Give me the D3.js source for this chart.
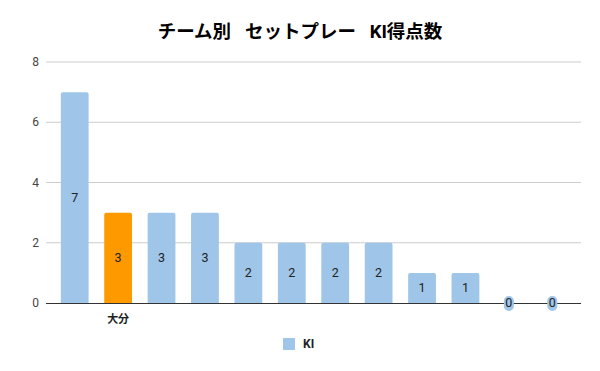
<!DOCTYPE html>
<html>
<head>
<meta charset="utf-8">
<script src="https://cdn.jsdelivr.net/npm/d3@7"></script>
<style>
  body { margin: 0; background: #fff; }
  text { font-family: Roboto, 'Noto Sans CJK JP', sans-serif; }
</style>
</head>
<body>
<div id="chart"></div>
<script>
// data
const categories = ['t1', '大分', 't3', 't4', 't5', 't6', 't7', 't8', 't9', 't10', 't11', 't12'];
const shownLabels = ['', '大分', '', '', '', '', '', '', '', '', '', ''];
const kiValues = [7, 3, 3, 3, 2, 2, 2, 2, 1, 1, 0, 0];
const highlight = '大分';
const yTicks = [0, 2, 4, 6, 8];

(function() {
  const width = 600;
  const height = 371;

  const svg = d3.select('#chart')
    .append('svg')
    .attr('width', width)
    .attr('height', height);

  svg.append('rect')
    .attr('width', width)
    .attr('height', height)
    .attr('fill', '#fff');

  const x = d3.scaleBand()
    .domain(categories)
    .range([53, 574])
    .paddingInner(0.36)
    .paddingOuter(0.18);

  const y = d3.scaleLinear()
    .domain([0, 8])
    .range([303, 62]);

  // gridlines
  svg.selectAll('.grid')
    .data(yTicks.filter(d => d > 0))
    .enter()
    .append('line')
    .attr('x1', 46)
    .attr('x2', 581)
    .attr('y1', d => y(d))
    .attr('y2', d => y(d))
    .attr('stroke', '#cccccc')
    .attr('stroke-width', 1);

  // y tick labels
  svg.selectAll('.ytick')
    .data(yTicks)
    .enter()
    .append('text')
    .attr('x', 39)
    .attr('y', d => y(d))
    .attr('dy', '0.35em')
    .attr('text-anchor', 'end')
    .attr('font-size', '12px')
    .attr('fill', '#444')
    .text(d => d);

  const data = categories.map((c, i) => ({ cat: c, label: shownLabels[i], v: kiValues[i] }));

  // bars
  svg.selectAll('.bar')
    .data(data.filter(d => d.v > 0))
    .enter()
    .append('path')
    .attr('d', d => {
      const x0 = x(d.cat), w = x.bandwidth(), y0 = y(d.v), y1 = y(0), r = 2;
      return `M${x0},${y1}V${y0 + r}Q${x0},${y0} ${x0 + r},${y0}H${x0 + w - r}Q${x0 + w},${y0} ${x0 + w},${y0 + r}V${y1}Z`;
    })
    .attr('fill', d => d.cat === highlight ? '#ff9900' : '#9fc5e8');

  // zero axis
  svg.append('line')
    .attr('x1', 46)
    .attr('x2', 581)
    .attr('y1', y(0) + 0.5)
    .attr('y2', y(0) + 0.5)
    .attr('stroke', '#333')
    .attr('stroke-width', 1);

  // highlight blobs for zero values
  svg.selectAll('.zero')
    .data(data.filter(d => d.v === 0))
    .enter()
    .append('rect')
    .attr('x', d => x(d.cat) + x.bandwidth() / 2 - 5)
    .attr('y', y(0) - 7)
    .attr('width', 10)
    .attr('height', 15)
    .attr('rx', 5)
    .attr('fill', '#9fc5e8');

  // value labels
  svg.selectAll('.val')
    .data(data)
    .enter()
    .append('text')
    .attr('x', d => x(d.cat) + x.bandwidth() / 2)
    .attr('y', d => d.v > 0 ? (y(d.v) + y(0)) / 2 : y(0))
    .attr('dy', '0.35em')
    .attr('text-anchor', 'middle')
    .attr('font-size', '12.5px')
    .attr('fill', '#222')
    .text(d => d.v);

  // category labels
  svg.selectAll('.cat')
    .data(data.filter(d => d.label))
    .enter()
    .append('text')
    .attr('x', d => x(d.cat) + x.bandwidth() / 2)
    .attr('y', 323)
    .attr('text-anchor', 'middle')
    .attr('font-size', '11px')
    .attr('font-weight', 'bold')
    .attr('fill', '#222')
    .text(d => d.label);

  // title
  svg.append('text')
    .attr('x', 300)
    .attr('y', 38)
    .attr('text-anchor', 'middle')
    .attr('font-size', '18.5px')
    .attr('font-weight', 'bold')
    .attr('fill', '#000')
    .style('white-space', 'pre')
    .text('チーム別   セットプレー   KI得点数');

  // legend
  svg.append('rect')
    .attr('x', 283)
    .attr('y', 338)
    .attr('width', 12)
    .attr('height', 12)
    .attr('fill', '#9fc5e8');

  svg.append('text')
    .attr('x', 303)
    .attr('y', 344)
    .attr('dy', '0.35em')
    .attr('font-size', '12px')
    .attr('font-weight', 'bold')
    .attr('fill', '#222')
    .text('KI');
})();
</script>
</body>
</html>
